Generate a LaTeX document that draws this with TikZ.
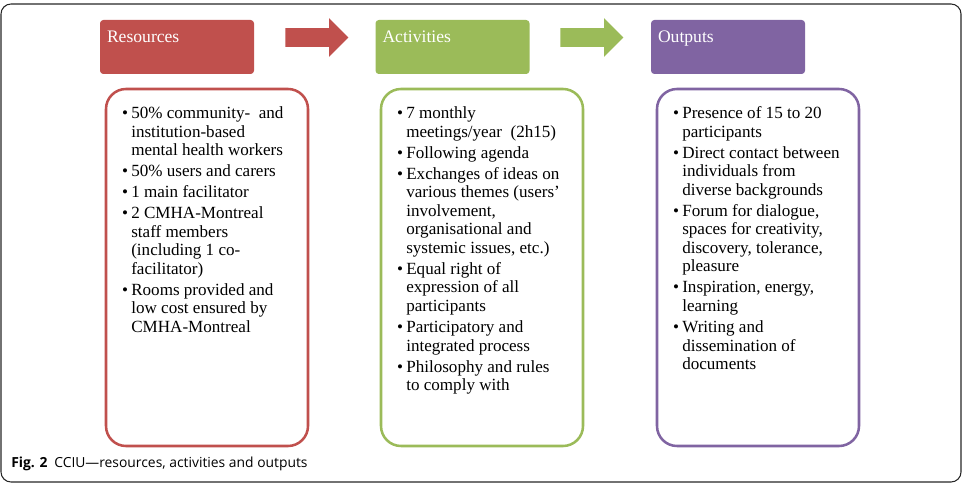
\documentclass[tikz,border=0pt]{standalone}
\usepackage{fontspec}
\setmainfont{Liberation Serif}
\newfontfamily\capfont[Ligatures=TeX]{Open Sans}
\usetikzlibrary{shapes.arrows}

\definecolor{rescol}{HTML}{C0504D}
\definecolor{actcol}{HTML}{9BBB59}
\definecolor{outcol}{HTML}{8064A2}

\tikzset{
  head/.style={rounded corners=2.5pt, minimum width=115.5pt, minimum height=40.5pt, inner sep=0pt},
  headtext/.style={anchor=base west, inner sep=0pt, text=white, font=\fontsize{13.2}{15}\selectfont},
  panel/.style={draw, line width=1.9pt, rounded corners=15pt, minimum width=151.5pt, minimum height=267.75pt, inner sep=0pt},
  items/.style={anchor=north west, inner sep=0pt, font=\fontsize{12.8}{13.9}\selectfont},
  flow/.style={single arrow, single arrow tip angle=90, single arrow head extend=7.5pt,
    minimum height=47.25pt, inner xsep=0pt, inner ysep=6.75pt, anchor=tail},
}

\begin{document}
\begin{tikzpicture}[x=0.75pt, y=-0.75pt]
\useasboundingbox (0,0) rectangle (973,484);
\draw [black!85, line width=0.8pt, rounded corners=7.5pt] (1,4) rectangle (961,482);

\node [head, fill=rescol] (res-head) at (177,47) {};
\node [head, fill=actcol] (act-head) at (452.5,47) {};
\node [head, fill=outcol] (out-head) at (728,47) {};
\node [headtext] (res-title) at ([shift={(7,23)}]res-head.north west) {Resources};
\node [headtext] (act-title) at ([shift={(7,23)}]act-head.north west) {Activities};
\node [headtext] (out-title) at ([shift={(7,23)}]out-head.north west) {Outputs};

\node [flow, fill=rescol] (res-arrow) at (285,37.5) {};
\node [flow, fill=actcol] (act-arrow) at (560,37.5) {};

\node [panel, draw=rescol] (res) at (207,267.5) {};
\node [panel, draw=actcol] (act) at (482,267.5) {};
\node [panel, draw=outcol] (out) at (758,267.5) {};

\node [items] (res-list) at ([shift={(17,17.5)}]res.north west) {%
\begin{tabular}{@{}l@{\hspace{2.5pt}}l@{}}
\textbullet & 50\% community-\ \ and\\
 & institution-based\\
 & mental health workers\\[1.9pt]
\textbullet & 50\% users and carers\\[1.9pt]
\textbullet & 1 main facilitator\\[1.9pt]
\textbullet & 2 CMHA-Montreal\\
 & staff members\\
 & (including 1 co-\\
 & facilitator)\\[1.9pt]
\textbullet & Rooms provided and\\
 & low cost ensured by\\
 & CMHA-Montreal
\end{tabular}};

\node [items] (act-list) at ([shift={(17,17.5)}]act.north west) {%
\begin{tabular}{@{}l@{\hspace{2.5pt}}l@{}}
\textbullet & 7 monthly\\
 & meetings/year\ \ (2h15)\\[1.9pt]
\textbullet & Following agenda\\[1.9pt]
\textbullet & Exchanges\ of ideas on\\
 & various themes\ (users'\\
 & involvement,\\
 & organisational and\\
 & systemic issues, etc.)\\[1.9pt]
\textbullet & Equal right of\\
 & expression of all\\
 & participants\\[1.9pt]
\textbullet & Participatory and\\
 & integrated process\\[1.9pt]
\textbullet & Philosophy and rules\\
 & to comply with
\end{tabular}};

\node [items] (out-list) at ([shift={(17,17.5)}]out.north west) {%
\begin{tabular}{@{}l@{\hspace{2.5pt}}l@{}}
\textbullet & Presence of 15 to 20\\
 & participants\\[1.9pt]
\textbullet & Direct contact between\\
 & individuals from\\
 & diverse backgrounds\\[1.9pt]
\textbullet & Forum for dialogue,\\
 & spaces for creativity,\\
 & discovery, tolerance,\\
 & pleasure\\[1.9pt]
\textbullet & Inspiration, energy,\\
 & learning\\[1.9pt]
\textbullet & Writing and\\
 & dissemination of\\
 & documents
\end{tabular}};

\node [anchor=base west, inner sep=0pt, font=\capfont\fontsize{10.4}{12}\selectfont] (caption) at (11,467)
  {\textbf{Fig. 2}\hspace{5pt}CCIU---resources, activities and outputs};
\end{tikzpicture}
\end{document}
